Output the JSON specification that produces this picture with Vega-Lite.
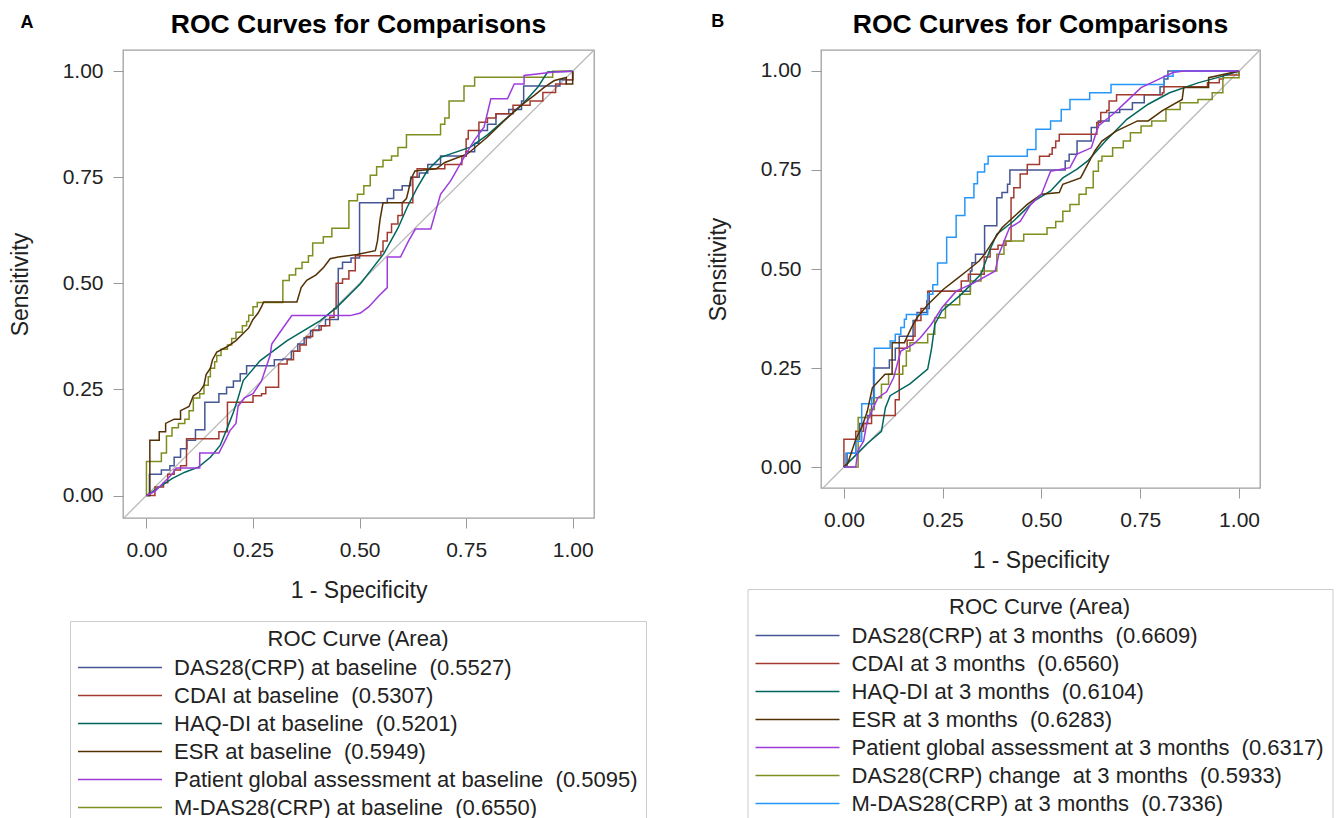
{
"$schema": "https://vega.github.io/schema/vega-lite/v6.json",
"padding": {"left": 8, "top": 11, "right": 0, "bottom": 0},
"spacing": 58,
"config": {
  "font": "Liberation Sans",
  "view": {"stroke": "#a0a0a0", "strokeWidth": 1.3},
  "axis": {"domain": false, "gridColor": "#e3e3e3", "tickColor": "#999999", "tickSize": 10, "labelFont": "Liberation Sans", "labelFontSize": 21, "labelColor": "#222222", "titleFont": "Liberation Sans", "titleFontSize": 23, "titleFontWeight": "normal", "titleColor": "#222222"},
  "axisX": {"labelPadding": 11, "titlePadding": 19},
  "axisY": {"labelPadding": 10, "titlePadding": 30},
  "title": {"font": "Liberation Sans"}
},
"datasets": {
  "curvesA": [
    {"k": "a1", "name": "DAS28(CRP) at baseline \u00a0(0.5527)"},
    {"k": "a2", "name": "CDAI at baseline \u00a0(0.5307)"},
    {"k": "a3", "name": "HAQ-DI at baseline \u00a0(0.5201)"},
    {"k": "a4", "name": "ESR at baseline \u00a0(0.5949)"},
    {"k": "a5", "name": "Patient global assessment at baseline \u00a0(0.5095)"},
    {"k": "a6", "name": "M-DAS28(CRP) at baseline \u00a0(0.6550)"}
  ],
  "curvesB": [
    {"k": "b1", "name": "DAS28(CRP) at 3 months \u00a0(0.6609)"},
    {"k": "b2", "name": "CDAI at 3 months \u00a0(0.6560)"},
    {"k": "b3", "name": "HAQ-DI at 3 months \u00a0(0.6104)"},
    {"k": "b4", "name": "ESR at 3 months \u00a0(0.6283)"},
    {"k": "b5", "name": "Patient global assessment at 3 months \u00a0(0.6317)"},
    {"k": "b6", "name": "DAS28(CRP) change \u00a0at 3 months \u00a0(0.5933)"},
    {"k": "b7", "name": "M-DAS28(CRP) at 3 months \u00a0(0.7336)"}
  ],
  "A_step": [
    {"k":"a1","i":0,"x":0,"y":0},{"k":"a1","i":1,"x":0.007,"y":0},{"k":"a1","i":2,"x":0.007,"y":0.05},{"k":"a1","i":3,"x":0.035,"y":0.05},{"k":"a1","i":4,"x":0.035,"y":0.06},{"k":"a1","i":5,"x":0.055,"y":0.07},{"k":"a1","i":6,"x":0.065,"y":0.09},{"k":"a1","i":7,"x":0.08,"y":0.11},{"k":"a1","i":8,"x":0.095,"y":0.13},{"k":"a1","i":9,"x":0.115,"y":0.155},{"k":"a1","i":10,"x":0.137,"y":0.155},{"k":"a1","i":11,"x":0.137,"y":0.22},{"k":"a1","i":12,"x":0.16,"y":0.22},{"k":"a1","i":13,"x":0.17,"y":0.24},{"k":"a1","i":14,"x":0.188,"y":0.255},{"k":"a1","i":15,"x":0.204,"y":0.27},{"k":"a1","i":16,"x":0.22,"y":0.287},{"k":"a1","i":17,"x":0.235,"y":0.306},{"k":"a1","i":18,"x":0.3,"y":0.306},{"k":"a1","i":19,"x":0.3,"y":0.32},{"k":"a1","i":20,"x":0.32,"y":0.322},{"k":"a1","i":21,"x":0.34,"y":0.34},{"k":"a1","i":22,"x":0.355,"y":0.357},{"k":"a1","i":23,"x":0.37,"y":0.372},{"k":"a1","i":24,"x":0.385,"y":0.389},{"k":"a1","i":25,"x":0.405,"y":0.4},{"k":"a1","i":26,"x":0.42,"y":0.415},{"k":"a1","i":27,"x":0.45,"y":0.415},{"k":"a1","i":28,"x":0.45,"y":0.535},{"k":"a1","i":29,"x":0.46,"y":0.535},{"k":"a1","i":30,"x":0.46,"y":0.55},{"k":"a1","i":31,"x":0.48,"y":0.55},{"k":"a1","i":32,"x":0.48,"y":0.56},{"k":"a1","i":33,"x":0.5,"y":0.56},{"k":"a1","i":34,"x":0.5,"y":0.69},{"k":"a1","i":35,"x":0.555,"y":0.69},{"k":"a1","i":36,"x":0.565,"y":0.7},{"k":"a1","i":37,"x":0.58,"y":0.72},{"k":"a1","i":38,"x":0.6,"y":0.73},{"k":"a1","i":39,"x":0.62,"y":0.75},{"k":"a1","i":40,"x":0.64,"y":0.76},{"k":"a1","i":41,"x":0.66,"y":0.78},{"k":"a1","i":42,"x":0.69,"y":0.8},{"k":"a1","i":43,"x":0.75,"y":0.81},{"k":"a1","i":44,"x":0.77,"y":0.83},{"k":"a1","i":45,"x":0.78,"y":0.86},{"k":"a1","i":46,"x":0.8,"y":0.875},{"k":"a1","i":47,"x":0.82,"y":0.9},{"k":"a1","i":48,"x":0.85,"y":0.91},{"k":"a1","i":49,"x":0.88,"y":0.93},{"k":"a1","i":50,"x":0.885,"y":0.965},{"k":"a1","i":51,"x":0.97,"y":0.965},{"k":"a1","i":52,"x":0.97,"y":0.98},{"k":"a1","i":53,"x":1,"y":0.98},{"k":"a1","i":54,"x":1,"y":1},
    {"k":"a2","i":0,"x":0,"y":0},{"k":"a2","i":1,"x":0.02,"y":0},{"k":"a2","i":2,"x":0.02,"y":0.02},{"k":"a2","i":3,"x":0.04,"y":0.03},{"k":"a2","i":4,"x":0.05,"y":0.05},{"k":"a2","i":5,"x":0.065,"y":0.06},{"k":"a2","i":6,"x":0.08,"y":0.07},{"k":"a2","i":7,"x":0.094,"y":0.08},{"k":"a2","i":8,"x":0.094,"y":0.134},{"k":"a2","i":9,"x":0.17,"y":0.134},{"k":"a2","i":10,"x":0.17,"y":0.15},{"k":"a2","i":11,"x":0.19,"y":0.15},{"k":"a2","i":12,"x":0.19,"y":0.22},{"k":"a2","i":13,"x":0.245,"y":0.22},{"k":"a2","i":14,"x":0.25,"y":0.235},{"k":"a2","i":15,"x":0.27,"y":0.24},{"k":"a2","i":16,"x":0.28,"y":0.255},{"k":"a2","i":17,"x":0.31,"y":0.255},{"k":"a2","i":18,"x":0.31,"y":0.31},{"k":"a2","i":19,"x":0.33,"y":0.32},{"k":"a2","i":20,"x":0.345,"y":0.34},{"k":"a2","i":21,"x":0.36,"y":0.355},{"k":"a2","i":22,"x":0.375,"y":0.375},{"k":"a2","i":23,"x":0.39,"y":0.39},{"k":"a2","i":24,"x":0.41,"y":0.4},{"k":"a2","i":25,"x":0.43,"y":0.42},{"k":"a2","i":26,"x":0.44,"y":0.44},{"k":"a2","i":27,"x":0.445,"y":0.5},{"k":"a2","i":28,"x":0.46,"y":0.51},{"k":"a2","i":29,"x":0.475,"y":0.53},{"k":"a2","i":30,"x":0.49,"y":0.55},{"k":"a2","i":31,"x":0.49,"y":0.565},{"k":"a2","i":32,"x":0.55,"y":0.575},{"k":"a2","i":33,"x":0.555,"y":0.6},{"k":"a2","i":34,"x":0.565,"y":0.62},{"k":"a2","i":35,"x":0.575,"y":0.64},{"k":"a2","i":36,"x":0.59,"y":0.66},{"k":"a2","i":37,"x":0.6,"y":0.69},{"k":"a2","i":38,"x":0.62,"y":0.69},{"k":"a2","i":39,"x":0.625,"y":0.75},{"k":"a2","i":40,"x":0.635,"y":0.77},{"k":"a2","i":41,"x":0.69,"y":0.77},{"k":"a2","i":42,"x":0.7,"y":0.78},{"k":"a2","i":43,"x":0.74,"y":0.8},{"k":"a2","i":44,"x":0.75,"y":0.84},{"k":"a2","i":45,"x":0.755,"y":0.86},{"k":"a2","i":46,"x":0.78,"y":0.86},{"k":"a2","i":47,"x":0.78,"y":0.88},{"k":"a2","i":48,"x":0.8,"y":0.89},{"k":"a2","i":49,"x":0.82,"y":0.9},{"k":"a2","i":50,"x":0.86,"y":0.92},{"k":"a2","i":51,"x":0.9,"y":0.93},{"k":"a2","i":52,"x":0.93,"y":0.95},{"k":"a2","i":53,"x":0.96,"y":0.97},{"k":"a2","i":54,"x":0.985,"y":0.98},{"k":"a2","i":55,"x":1,"y":0.98},{"k":"a2","i":56,"x":1,"y":1},
    {"k":"a6","i":0,"x":0,"y":0},{"k":"a6","i":1,"x":0,"y":0.08},{"k":"a6","i":2,"x":0.035,"y":0.08},{"k":"a6","i":3,"x":0.035,"y":0.1},{"k":"a6","i":4,"x":0.047,"y":0.1},{"k":"a6","i":5,"x":0.047,"y":0.14},{"k":"a6","i":6,"x":0.06,"y":0.14},{"k":"a6","i":7,"x":0.06,"y":0.16},{"k":"a6","i":8,"x":0.075,"y":0.17},{"k":"a6","i":9,"x":0.09,"y":0.18},{"k":"a6","i":10,"x":0.1,"y":0.2},{"k":"a6","i":11,"x":0.11,"y":0.21},{"k":"a6","i":12,"x":0.11,"y":0.23},{"k":"a6","i":13,"x":0.125,"y":0.24},{"k":"a6","i":14,"x":0.135,"y":0.26},{"k":"a6","i":15,"x":0.145,"y":0.28},{"k":"a6","i":16,"x":0.15,"y":0.3},{"k":"a6","i":17,"x":0.16,"y":0.315},{"k":"a6","i":18,"x":0.165,"y":0.33},{"k":"a6","i":19,"x":0.175,"y":0.345},{"k":"a6","i":20,"x":0.19,"y":0.355},{"k":"a6","i":21,"x":0.2,"y":0.37},{"k":"a6","i":22,"x":0.21,"y":0.385},{"k":"a6","i":23,"x":0.225,"y":0.4},{"k":"a6","i":24,"x":0.235,"y":0.41},{"k":"a6","i":25,"x":0.24,"y":0.425},{"k":"a6","i":26,"x":0.25,"y":0.43},{"k":"a6","i":27,"x":0.25,"y":0.445},{"k":"a6","i":28,"x":0.26,"y":0.455},{"k":"a6","i":29,"x":0.32,"y":0.455},{"k":"a6","i":30,"x":0.32,"y":0.507},{"k":"a6","i":31,"x":0.335,"y":0.507},{"k":"a6","i":32,"x":0.335,"y":0.52},{"k":"a6","i":33,"x":0.35,"y":0.52},{"k":"a6","i":34,"x":0.35,"y":0.535},{"k":"a6","i":35,"x":0.365,"y":0.535},{"k":"a6","i":36,"x":0.365,"y":0.55},{"k":"a6","i":37,"x":0.38,"y":0.55},{"k":"a6","i":38,"x":0.38,"y":0.565},{"k":"a6","i":39,"x":0.39,"y":0.565},{"k":"a6","i":40,"x":0.39,"y":0.595},{"k":"a6","i":41,"x":0.415,"y":0.595},{"k":"a6","i":42,"x":0.415,"y":0.61},{"k":"a6","i":43,"x":0.435,"y":0.61},{"k":"a6","i":44,"x":0.435,"y":0.63},{"k":"a6","i":45,"x":0.475,"y":0.63},{"k":"a6","i":46,"x":0.475,"y":0.695},{"k":"a6","i":47,"x":0.495,"y":0.695},{"k":"a6","i":48,"x":0.495,"y":0.71},{"k":"a6","i":49,"x":0.51,"y":0.71},{"k":"a6","i":50,"x":0.51,"y":0.73},{"k":"a6","i":51,"x":0.525,"y":0.73},{"k":"a6","i":52,"x":0.525,"y":0.755},{"k":"a6","i":53,"x":0.54,"y":0.755},{"k":"a6","i":54,"x":0.54,"y":0.775},{"k":"a6","i":55,"x":0.555,"y":0.775},{"k":"a6","i":56,"x":0.555,"y":0.79},{"k":"a6","i":57,"x":0.575,"y":0.79},{"k":"a6","i":58,"x":0.575,"y":0.8},{"k":"a6","i":59,"x":0.59,"y":0.8},{"k":"a6","i":60,"x":0.59,"y":0.82},{"k":"a6","i":61,"x":0.61,"y":0.82},{"k":"a6","i":62,"x":0.61,"y":0.85},{"k":"a6","i":63,"x":0.69,"y":0.85},{"k":"a6","i":64,"x":0.69,"y":0.875},{"k":"a6","i":65,"x":0.7,"y":0.875},{"k":"a6","i":66,"x":0.7,"y":0.89},{"k":"a6","i":67,"x":0.71,"y":0.89},{"k":"a6","i":68,"x":0.71,"y":0.93},{"k":"a6","i":69,"x":0.745,"y":0.93},{"k":"a6","i":70,"x":0.745,"y":0.965},{"k":"a6","i":71,"x":0.77,"y":0.965},{"k":"a6","i":72,"x":0.77,"y":0.986},{"k":"a6","i":73,"x":0.953,"y":0.986},{"k":"a6","i":74,"x":0.953,"y":1},{"k":"a6","i":75,"x":1,"y":1}
  ],
  "A_lin": [
    {"k":"a3","i":0,"x":0,"y":0},{"k":"a3","i":1,"x":0.03,"y":0.02},{"k":"a3","i":2,"x":0.06,"y":0.04},{"k":"a3","i":3,"x":0.09,"y":0.055},{"k":"a3","i":4,"x":0.122,"y":0.067},{"k":"a3","i":5,"x":0.15,"y":0.09},{"k":"a3","i":6,"x":0.173,"y":0.118},{"k":"a3","i":7,"x":0.19,"y":0.16},{"k":"a3","i":8,"x":0.204,"y":0.196},{"k":"a3","i":9,"x":0.215,"y":0.23},{"k":"a3","i":10,"x":0.227,"y":0.271},{"k":"a3","i":11,"x":0.267,"y":0.318},{"k":"a3","i":12,"x":0.33,"y":0.365},{"k":"a3","i":13,"x":0.408,"y":0.412},{"k":"a3","i":14,"x":0.447,"y":0.444},{"k":"a3","i":15,"x":0.502,"y":0.499},{"k":"a3","i":16,"x":0.557,"y":0.57},{"k":"a3","i":17,"x":0.59,"y":0.63},{"k":"a3","i":18,"x":0.612,"y":0.68},{"k":"a3","i":19,"x":0.635,"y":0.725},{"k":"a3","i":20,"x":0.659,"y":0.766},{"k":"a3","i":21,"x":0.69,"y":0.797},{"k":"a3","i":22,"x":0.76,"y":0.821},{"k":"a3","i":23,"x":0.8,"y":0.85},{"k":"a3","i":24,"x":0.839,"y":0.884},{"k":"a3","i":25,"x":0.88,"y":0.92},{"k":"a3","i":26,"x":0.918,"y":0.962},{"k":"a3","i":27,"x":0.941,"y":0.998},{"k":"a3","i":28,"x":1,"y":1},
    {"k":"a4","i":0,"x":0,"y":0},{"k":"a4","i":1,"x":0.008,"y":0},{"k":"a4","i":2,"x":0.008,"y":0.13},{"k":"a4","i":3,"x":0.03,"y":0.13},{"k":"a4","i":4,"x":0.03,"y":0.15},{"k":"a4","i":5,"x":0.045,"y":0.15},{"k":"a4","i":6,"x":0.045,"y":0.17},{"k":"a4","i":7,"x":0.065,"y":0.18},{"k":"a4","i":8,"x":0.08,"y":0.18},{"k":"a4","i":9,"x":0.08,"y":0.2},{"k":"a4","i":10,"x":0.1,"y":0.21},{"k":"a4","i":11,"x":0.11,"y":0.235},{"k":"a4","i":12,"x":0.125,"y":0.245},{"k":"a4","i":13,"x":0.135,"y":0.26},{"k":"a4","i":14,"x":0.14,"y":0.285},{"k":"a4","i":15,"x":0.15,"y":0.3},{"k":"a4","i":16,"x":0.155,"y":0.32},{"k":"a4","i":17,"x":0.165,"y":0.338},{"k":"a4","i":18,"x":0.188,"y":0.35},{"k":"a4","i":19,"x":0.21,"y":0.365},{"k":"a4","i":20,"x":0.225,"y":0.38},{"k":"a4","i":21,"x":0.24,"y":0.395},{"k":"a4","i":22,"x":0.25,"y":0.415},{"k":"a4","i":23,"x":0.262,"y":0.43},{"k":"a4","i":24,"x":0.27,"y":0.445},{"k":"a4","i":25,"x":0.275,"y":0.456},{"k":"a4","i":26,"x":0.353,"y":0.456},{"k":"a4","i":27,"x":0.363,"y":0.49},{"k":"a4","i":28,"x":0.376,"y":0.507},{"k":"a4","i":29,"x":0.398,"y":0.52},{"k":"a4","i":30,"x":0.416,"y":0.538},{"k":"a4","i":31,"x":0.431,"y":0.558},{"k":"a4","i":32,"x":0.45,"y":0.562},{"k":"a4","i":33,"x":0.494,"y":0.568},{"k":"a4","i":34,"x":0.537,"y":0.577},{"k":"a4","i":35,"x":0.542,"y":0.6},{"k":"a4","i":36,"x":0.548,"y":0.65},{"k":"a4","i":37,"x":0.555,"y":0.69},{"k":"a4","i":38,"x":0.6,"y":0.69},{"k":"a4","i":39,"x":0.61,"y":0.7},{"k":"a4","i":40,"x":0.615,"y":0.72},{"k":"a4","i":41,"x":0.62,"y":0.745},{"k":"a4","i":42,"x":0.63,"y":0.765},{"k":"a4","i":43,"x":0.68,"y":0.77},{"k":"a4","i":44,"x":0.7,"y":0.785},{"k":"a4","i":45,"x":0.753,"y":0.805},{"k":"a4","i":46,"x":0.8,"y":0.845},{"k":"a4","i":47,"x":0.84,"y":0.884},{"k":"a4","i":48,"x":0.878,"y":0.919},{"k":"a4","i":49,"x":0.91,"y":0.943},{"k":"a4","i":50,"x":0.933,"y":0.962},{"k":"a4","i":51,"x":0.957,"y":0.978},{"k":"a4","i":52,"x":0.985,"y":0.985},{"k":"a4","i":53,"x":0.985,"y":0.97},{"k":"a4","i":54,"x":1,"y":0.97},{"k":"a4","i":55,"x":1,"y":1},
    {"k":"a5","i":0,"x":0,"y":0},{"k":"a5","i":1,"x":0.02,"y":0.01},{"k":"a5","i":2,"x":0.04,"y":0.03},{"k":"a5","i":3,"x":0.06,"y":0.05},{"k":"a5","i":4,"x":0.07,"y":0.065},{"k":"a5","i":5,"x":0.125,"y":0.065},{"k":"a5","i":6,"x":0.125,"y":0.1},{"k":"a5","i":7,"x":0.17,"y":0.1},{"k":"a5","i":8,"x":0.185,"y":0.13},{"k":"a5","i":9,"x":0.196,"y":0.153},{"k":"a5","i":10,"x":0.21,"y":0.17},{"k":"a5","i":11,"x":0.215,"y":0.21},{"k":"a5","i":12,"x":0.23,"y":0.23},{"k":"a5","i":13,"x":0.25,"y":0.24},{"k":"a5","i":14,"x":0.27,"y":0.27},{"k":"a5","i":15,"x":0.28,"y":0.3},{"k":"a5","i":16,"x":0.29,"y":0.33},{"k":"a5","i":17,"x":0.294,"y":0.357},{"k":"a5","i":18,"x":0.31,"y":0.38},{"k":"a5","i":19,"x":0.341,"y":0.424},{"k":"a5","i":20,"x":0.478,"y":0.424},{"k":"a5","i":21,"x":0.502,"y":0.43},{"k":"a5","i":22,"x":0.522,"y":0.445},{"k":"a5","i":23,"x":0.545,"y":0.47},{"k":"a5","i":24,"x":0.565,"y":0.49},{"k":"a5","i":25,"x":0.565,"y":0.562},{"k":"a5","i":26,"x":0.596,"y":0.562},{"k":"a5","i":27,"x":0.615,"y":0.6},{"k":"a5","i":28,"x":0.631,"y":0.628},{"k":"a5","i":29,"x":0.667,"y":0.628},{"k":"a5","i":30,"x":0.69,"y":0.71},{"k":"a5","i":31,"x":0.714,"y":0.742},{"k":"a5","i":32,"x":0.745,"y":0.797},{"k":"a5","i":33,"x":0.769,"y":0.837},{"k":"a5","i":34,"x":0.792,"y":0.868},{"k":"a5","i":35,"x":0.808,"y":0.935},{"k":"a5","i":36,"x":0.847,"y":0.935},{"k":"a5","i":37,"x":0.863,"y":0.97},{"k":"a5","i":38,"x":0.886,"y":0.97},{"k":"a5","i":39,"x":0.886,"y":0.99},{"k":"a5","i":40,"x":0.957,"y":0.998},{"k":"a5","i":41,"x":1,"y":1}
  ],
  "B_step": [
    {"k":"b1","i":0,"x":0,"y":0},{"k":"b1","i":1,"x":0.008,"y":0},{"k":"b1","i":2,"x":0.008,"y":0.035},{"k":"b1","i":3,"x":0.03,"y":0.035},{"k":"b1","i":4,"x":0.03,"y":0.07},{"k":"b1","i":5,"x":0.04,"y":0.07},{"k":"b1","i":6,"x":0.04,"y":0.11},{"k":"b1","i":7,"x":0.06,"y":0.13},{"k":"b1","i":8,"x":0.07,"y":0.16},{"k":"b1","i":9,"x":0.075,"y":0.2},{"k":"b1","i":10,"x":0.075,"y":0.25},{"k":"b1","i":11,"x":0.1,"y":0.25},{"k":"b1","i":12,"x":0.115,"y":0.27},{"k":"b1","i":13,"x":0.13,"y":0.3},{"k":"b1","i":14,"x":0.14,"y":0.33},{"k":"b1","i":15,"x":0.165,"y":0.33},{"k":"b1","i":16,"x":0.175,"y":0.37},{"k":"b1","i":17,"x":0.185,"y":0.39},{"k":"b1","i":18,"x":0.21,"y":0.4},{"k":"b1","i":19,"x":0.216,"y":0.444},{"k":"b1","i":20,"x":0.315,"y":0.444},{"k":"b1","i":21,"x":0.32,"y":0.495},{"k":"b1","i":22,"x":0.324,"y":0.516},{"k":"b1","i":23,"x":0.333,"y":0.537},{"k":"b1","i":24,"x":0.356,"y":0.537},{"k":"b1","i":25,"x":0.356,"y":0.609},{"k":"b1","i":26,"x":0.387,"y":0.609},{"k":"b1","i":27,"x":0.387,"y":0.68},{"k":"b1","i":28,"x":0.4,"y":0.693},{"k":"b1","i":29,"x":0.414,"y":0.714},{"k":"b1","i":30,"x":0.42,"y":0.75},{"k":"b1","i":31,"x":0.56,"y":0.75},{"k":"b1","i":32,"x":0.56,"y":0.773},{"k":"b1","i":33,"x":0.57,"y":0.79},{"k":"b1","i":34,"x":0.59,"y":0.823},{"k":"b1","i":35,"x":0.622,"y":0.823},{"k":"b1","i":36,"x":0.626,"y":0.857},{"k":"b1","i":37,"x":0.644,"y":0.874},{"k":"b1","i":38,"x":0.671,"y":0.874},{"k":"b1","i":39,"x":0.671,"y":0.895},{"k":"b1","i":40,"x":0.698,"y":0.903},{"k":"b1","i":41,"x":0.73,"y":0.92},{"k":"b1","i":42,"x":0.76,"y":0.94},{"k":"b1","i":43,"x":0.8,"y":0.96},{"k":"b1","i":44,"x":0.81,"y":0.98},{"k":"b1","i":45,"x":0.82,"y":1},{"k":"b1","i":46,"x":1,"y":1},
    {"k":"b2","i":0,"x":0,"y":0},{"k":"b2","i":1,"x":0,"y":0.07},{"k":"b2","i":2,"x":0.03,"y":0.07},{"k":"b2","i":3,"x":0.03,"y":0.09},{"k":"b2","i":4,"x":0.05,"y":0.11},{"k":"b2","i":5,"x":0.07,"y":0.13},{"k":"b2","i":6,"x":0.13,"y":0.13},{"k":"b2","i":7,"x":0.13,"y":0.17},{"k":"b2","i":8,"x":0.14,"y":0.2},{"k":"b2","i":9,"x":0.14,"y":0.3},{"k":"b2","i":10,"x":0.16,"y":0.32},{"k":"b2","i":11,"x":0.175,"y":0.33},{"k":"b2","i":12,"x":0.18,"y":0.37},{"k":"b2","i":13,"x":0.195,"y":0.4},{"k":"b2","i":14,"x":0.21,"y":0.42},{"k":"b2","i":15,"x":0.212,"y":0.444},{"k":"b2","i":16,"x":0.284,"y":0.444},{"k":"b2","i":17,"x":0.297,"y":0.47},{"k":"b2","i":18,"x":0.315,"y":0.487},{"k":"b2","i":19,"x":0.355,"y":0.49},{"k":"b2","i":20,"x":0.355,"y":0.53},{"k":"b2","i":21,"x":0.37,"y":0.55},{"k":"b2","i":22,"x":0.39,"y":0.56},{"k":"b2","i":23,"x":0.41,"y":0.57},{"k":"b2","i":24,"x":0.423,"y":0.58},{"k":"b2","i":25,"x":0.423,"y":0.68},{"k":"b2","i":26,"x":0.43,"y":0.705},{"k":"b2","i":27,"x":0.446,"y":0.74},{"k":"b2","i":28,"x":0.464,"y":0.764},{"k":"b2","i":29,"x":0.495,"y":0.785},{"k":"b2","i":30,"x":0.52,"y":0.79},{"k":"b2","i":31,"x":0.527,"y":0.806},{"k":"b2","i":32,"x":0.536,"y":0.823},{"k":"b2","i":33,"x":0.545,"y":0.84},{"k":"b2","i":34,"x":0.635,"y":0.84},{"k":"b2","i":35,"x":0.64,"y":0.87},{"k":"b2","i":36,"x":0.65,"y":0.895},{"k":"b2","i":37,"x":0.665,"y":0.9},{"k":"b2","i":38,"x":0.671,"y":0.924},{"k":"b2","i":39,"x":0.69,"y":0.94},{"k":"b2","i":40,"x":0.806,"y":0.945},{"k":"b2","i":41,"x":0.81,"y":0.96},{"k":"b2","i":42,"x":0.85,"y":0.96},{"k":"b2","i":43,"x":0.92,"y":0.97},{"k":"b2","i":44,"x":0.95,"y":0.98},{"k":"b2","i":45,"x":0.96,"y":0.99},{"k":"b2","i":46,"x":1,"y":1},
    {"k":"b6","i":0,"x":0,"y":0},{"k":"b6","i":1,"x":0.036,"y":0},{"k":"b6","i":2,"x":0.036,"y":0.125},{"k":"b6","i":3,"x":0.066,"y":0.125},{"k":"b6","i":4,"x":0.066,"y":0.145},{"k":"b6","i":5,"x":0.077,"y":0.175},{"k":"b6","i":6,"x":0.095,"y":0.209},{"k":"b6","i":7,"x":0.113,"y":0.234},{"k":"b6","i":8,"x":0.149,"y":0.255},{"k":"b6","i":9,"x":0.158,"y":0.293},{"k":"b6","i":10,"x":0.167,"y":0.314},{"k":"b6","i":11,"x":0.19,"y":0.314},{"k":"b6","i":12,"x":0.212,"y":0.335},{"k":"b6","i":13,"x":0.23,"y":0.377},{"k":"b6","i":14,"x":0.257,"y":0.41},{"k":"b6","i":15,"x":0.293,"y":0.436},{"k":"b6","i":16,"x":0.32,"y":0.47},{"k":"b6","i":17,"x":0.347,"y":0.495},{"k":"b6","i":18,"x":0.387,"y":0.537},{"k":"b6","i":19,"x":0.405,"y":0.571},{"k":"b6","i":20,"x":0.455,"y":0.571},{"k":"b6","i":21,"x":0.455,"y":0.588},{"k":"b6","i":22,"x":0.514,"y":0.588},{"k":"b6","i":23,"x":0.514,"y":0.604},{"k":"b6","i":24,"x":0.536,"y":0.62},{"k":"b6","i":25,"x":0.554,"y":0.646},{"k":"b6","i":26,"x":0.572,"y":0.663},{"k":"b6","i":27,"x":0.595,"y":0.689},{"k":"b6","i":28,"x":0.613,"y":0.705},{"k":"b6","i":29,"x":0.631,"y":0.747},{"k":"b6","i":30,"x":0.644,"y":0.773},{"k":"b6","i":31,"x":0.653,"y":0.785},{"k":"b6","i":32,"x":0.68,"y":0.785},{"k":"b6","i":33,"x":0.68,"y":0.806},{"k":"b6","i":34,"x":0.707,"y":0.823},{"k":"b6","i":35,"x":0.725,"y":0.844},{"k":"b6","i":36,"x":0.752,"y":0.861},{"k":"b6","i":37,"x":0.779,"y":0.874},{"k":"b6","i":38,"x":0.815,"y":0.903},{"k":"b6","i":39,"x":0.851,"y":0.92},{"k":"b6","i":40,"x":0.896,"y":0.928},{"k":"b6","i":41,"x":0.932,"y":0.945},{"k":"b6","i":42,"x":0.959,"y":0.945},{"k":"b6","i":43,"x":0.959,"y":0.983},{"k":"b6","i":44,"x":1,"y":1},
    {"k":"b7","i":0,"x":0,"y":0},{"k":"b7","i":1,"x":0.005,"y":0},{"k":"b7","i":2,"x":0.005,"y":0.035},{"k":"b7","i":3,"x":0.03,"y":0.035},{"k":"b7","i":4,"x":0.03,"y":0.065},{"k":"b7","i":5,"x":0.045,"y":0.065},{"k":"b7","i":6,"x":0.045,"y":0.16},{"k":"b7","i":7,"x":0.07,"y":0.16},{"k":"b7","i":8,"x":0.07,"y":0.175},{"k":"b7","i":9,"x":0.077,"y":0.175},{"k":"b7","i":10,"x":0.077,"y":0.3},{"k":"b7","i":11,"x":0.117,"y":0.3},{"k":"b7","i":12,"x":0.117,"y":0.318},{"k":"b7","i":13,"x":0.13,"y":0.318},{"k":"b7","i":14,"x":0.13,"y":0.335},{"k":"b7","i":15,"x":0.144,"y":0.335},{"k":"b7","i":16,"x":0.144,"y":0.352},{"k":"b7","i":17,"x":0.153,"y":0.352},{"k":"b7","i":18,"x":0.153,"y":0.373},{"k":"b7","i":19,"x":0.158,"y":0.373},{"k":"b7","i":20,"x":0.158,"y":0.385},{"k":"b7","i":21,"x":0.212,"y":0.385},{"k":"b7","i":22,"x":0.212,"y":0.436},{"k":"b7","i":23,"x":0.225,"y":0.436},{"k":"b7","i":24,"x":0.225,"y":0.46},{"k":"b7","i":25,"x":0.237,"y":0.46},{"k":"b7","i":26,"x":0.237,"y":0.515},{"k":"b7","i":27,"x":0.26,"y":0.515},{"k":"b7","i":28,"x":0.26,"y":0.58},{"k":"b7","i":29,"x":0.284,"y":0.58},{"k":"b7","i":30,"x":0.284,"y":0.635},{"k":"b7","i":31,"x":0.306,"y":0.635},{"k":"b7","i":32,"x":0.306,"y":0.68},{"k":"b7","i":33,"x":0.329,"y":0.68},{"k":"b7","i":34,"x":0.329,"y":0.715},{"k":"b7","i":35,"x":0.338,"y":0.715},{"k":"b7","i":36,"x":0.338,"y":0.745},{"k":"b7","i":37,"x":0.356,"y":0.745},{"k":"b7","i":38,"x":0.356,"y":0.765},{"k":"b7","i":39,"x":0.365,"y":0.765},{"k":"b7","i":40,"x":0.365,"y":0.785},{"k":"b7","i":41,"x":0.464,"y":0.785},{"k":"b7","i":42,"x":0.464,"y":0.802},{"k":"b7","i":43,"x":0.486,"y":0.802},{"k":"b7","i":44,"x":0.486,"y":0.853},{"k":"b7","i":45,"x":0.523,"y":0.853},{"k":"b7","i":46,"x":0.523,"y":0.874},{"k":"b7","i":47,"x":0.55,"y":0.874},{"k":"b7","i":48,"x":0.55,"y":0.903},{"k":"b7","i":49,"x":0.572,"y":0.903},{"k":"b7","i":50,"x":0.572,"y":0.928},{"k":"b7","i":51,"x":0.622,"y":0.928},{"k":"b7","i":52,"x":0.622,"y":0.945},{"k":"b7","i":53,"x":0.676,"y":0.945},{"k":"b7","i":54,"x":0.676,"y":0.966},{"k":"b7","i":55,"x":0.81,"y":0.966},{"k":"b7","i":56,"x":0.81,"y":0.987},{"k":"b7","i":57,"x":0.833,"y":0.987},{"k":"b7","i":58,"x":0.833,"y":1},{"k":"b7","i":59,"x":1,"y":1}
  ],
  "B_lin": [
    {"k":"b3","i":0,"x":0,"y":0},{"k":"b3","i":1,"x":0.03,"y":0.03},{"k":"b3","i":2,"x":0.06,"y":0.06},{"k":"b3","i":3,"x":0.095,"y":0.09},{"k":"b3","i":4,"x":0.105,"y":0.15},{"k":"b3","i":5,"x":0.117,"y":0.18},{"k":"b3","i":6,"x":0.167,"y":0.21},{"k":"b3","i":7,"x":0.212,"y":0.247},{"k":"b3","i":8,"x":0.222,"y":0.3},{"k":"b3","i":9,"x":0.23,"y":0.36},{"k":"b3","i":10,"x":0.248,"y":0.394},{"k":"b3","i":11,"x":0.297,"y":0.436},{"k":"b3","i":12,"x":0.347,"y":0.487},{"k":"b3","i":13,"x":0.37,"y":0.55},{"k":"b3","i":14,"x":0.387,"y":0.588},{"k":"b3","i":15,"x":0.428,"y":0.62},{"k":"b3","i":16,"x":0.482,"y":0.672},{"k":"b3","i":17,"x":0.523,"y":0.697},{"k":"b3","i":18,"x":0.554,"y":0.73},{"k":"b3","i":19,"x":0.59,"y":0.752},{"k":"b3","i":20,"x":0.617,"y":0.773},{"k":"b3","i":21,"x":0.662,"y":0.823},{"k":"b3","i":22,"x":0.716,"y":0.878},{"k":"b3","i":23,"x":0.77,"y":0.916},{"k":"b3","i":24,"x":0.824,"y":0.945},{"k":"b3","i":25,"x":0.896,"y":0.97},{"k":"b3","i":26,"x":0.959,"y":0.987},{"k":"b3","i":27,"x":1,"y":1},
    {"k":"b4","i":0,"x":0,"y":0},{"k":"b4","i":1,"x":0.01,"y":0.01},{"k":"b4","i":2,"x":0.02,"y":0.04},{"k":"b4","i":3,"x":0.03,"y":0.07},{"k":"b4","i":4,"x":0.045,"y":0.1},{"k":"b4","i":5,"x":0.059,"y":0.14},{"k":"b4","i":6,"x":0.072,"y":0.2},{"k":"b4","i":7,"x":0.104,"y":0.234},{"k":"b4","i":8,"x":0.122,"y":0.234},{"k":"b4","i":9,"x":0.122,"y":0.314},{"k":"b4","i":10,"x":0.153,"y":0.314},{"k":"b4","i":11,"x":0.17,"y":0.35},{"k":"b4","i":12,"x":0.185,"y":0.377},{"k":"b4","i":13,"x":0.212,"y":0.41},{"k":"b4","i":14,"x":0.252,"y":0.449},{"k":"b4","i":15,"x":0.284,"y":0.474},{"k":"b4","i":16,"x":0.311,"y":0.495},{"k":"b4","i":17,"x":0.342,"y":0.52},{"k":"b4","i":18,"x":0.356,"y":0.537},{"k":"b4","i":19,"x":0.383,"y":0.579},{"k":"b4","i":20,"x":0.4,"y":0.604},{"k":"b4","i":21,"x":0.428,"y":0.63},{"k":"b4","i":22,"x":0.464,"y":0.663},{"k":"b4","i":23,"x":0.5,"y":0.689},{"k":"b4","i":24,"x":0.545,"y":0.693},{"k":"b4","i":25,"x":0.554,"y":0.714},{"k":"b4","i":26,"x":0.599,"y":0.73},{"k":"b4","i":27,"x":0.617,"y":0.764},{"k":"b4","i":28,"x":0.635,"y":0.798},{"k":"b4","i":29,"x":0.653,"y":0.823},{"k":"b4","i":30,"x":0.689,"y":0.848},{"k":"b4","i":31,"x":0.743,"y":0.874},{"k":"b4","i":32,"x":0.77,"y":0.874},{"k":"b4","i":33,"x":0.806,"y":0.9},{"k":"b4","i":34,"x":0.856,"y":0.928},{"k":"b4","i":35,"x":0.86,"y":0.958},{"k":"b4","i":36,"x":0.923,"y":0.958},{"k":"b4","i":37,"x":0.923,"y":0.983},{"k":"b4","i":38,"x":1,"y":1},
    {"k":"b5","i":0,"x":0,"y":0},{"k":"b5","i":1,"x":0.03,"y":0},{"k":"b5","i":2,"x":0.035,"y":0.04},{"k":"b5","i":3,"x":0.05,"y":0.066},{"k":"b5","i":4,"x":0.059,"y":0.116},{"k":"b5","i":5,"x":0.086,"y":0.175},{"k":"b5","i":6,"x":0.108,"y":0.19},{"k":"b5","i":7,"x":0.126,"y":0.226},{"k":"b5","i":8,"x":0.144,"y":0.293},{"k":"b5","i":9,"x":0.176,"y":0.31},{"k":"b5","i":10,"x":0.194,"y":0.327},{"k":"b5","i":11,"x":0.221,"y":0.36},{"k":"b5","i":12,"x":0.248,"y":0.402},{"k":"b5","i":13,"x":0.284,"y":0.444},{"k":"b5","i":14,"x":0.329,"y":0.465},{"k":"b5","i":15,"x":0.383,"y":0.495},{"k":"b5","i":16,"x":0.392,"y":0.537},{"k":"b5","i":17,"x":0.419,"y":0.604},{"k":"b5","i":18,"x":0.446,"y":0.62},{"k":"b5","i":19,"x":0.473,"y":0.663},{"k":"b5","i":20,"x":0.5,"y":0.689},{"k":"b5","i":21,"x":0.523,"y":0.747},{"k":"b5","i":22,"x":0.572,"y":0.756},{"k":"b5","i":23,"x":0.59,"y":0.79},{"k":"b5","i":24,"x":0.626,"y":0.806},{"k":"b5","i":25,"x":0.644,"y":0.861},{"k":"b5","i":26,"x":0.68,"y":0.89},{"k":"b5","i":27,"x":0.716,"y":0.924},{"k":"b5","i":28,"x":0.752,"y":0.958},{"k":"b5","i":29,"x":0.788,"y":0.975},{"k":"b5","i":30,"x":0.833,"y":0.996},{"k":"b5","i":31,"x":0.86,"y":1},{"k":"b5","i":32,"x":1,"y":1}
  ]
},
"resolve": {"scale": {"color": "independent"}, "legend": {"color": "independent"}},
"hconcat": [
  {
    "width": 471, "height": 468,
    "title": {"text": "ROC Curves for Comparisons", "fontSize": 26.5, "fontWeight": "bold", "baseline": "alphabetic", "offset": -46, "frame": "group", "anchor": "middle", "color": "#000000"},
    "layer": [
      {
        "data": {"values": [{}]},
        "mark": {"type": "rule", "color": "#b8b8b8", "strokeWidth": 1.3, "clip": true},
        "encoding": {
          "x": {"datum": -0.055, "type": "quantitative", "scale": {"domain": [-0.055, 1.05], "nice": false, "zero": false}, "axis": {"values": [0, 0.25, 0.5, 0.75, 1], "format": ".2f", "title": "1 - Specificity"}},
          "y": {"datum": -0.055, "type": "quantitative", "scale": {"domain": [-0.053, 1.05], "nice": false, "zero": false}, "axis": {"values": [0, 0.25, 0.5, 0.75, 1], "format": ".2f", "title": "Sensitivity"}},
          "x2": {"datum": 1.05},
          "y2": {"datum": 1.05}
        }
      },
      {
        "data": {"values": [{"panel": "A"}]},
        "mark": {"type": "text", "fontSize": 18, "fontWeight": "bold", "baseline": "alphabetic", "align": "center", "color": "#000000"},
        "encoding": {
          "x": {"datum": -0.28, "type": "quantitative"},
          "y": {"datum": 1.103, "type": "quantitative"},
          "text": {"field": "panel"}
        }
      },
      {
        "data": {"name": "A_step"},
        "transform": [{"lookup": "k", "from": {"data": {"name": "curvesA"}, "key": "k", "fields": ["name"]}}],
        "mark": {"type": "line", "interpolate": "step-after", "strokeWidth": 1.5},
        "encoding": {
          "x": {"field": "x", "type": "quantitative", "scale": {"domain": [-0.055, 1.05], "nice": false, "zero": false}, "axis": {"values": [0, 0.25, 0.5, 0.75, 1], "format": ".2f", "title": "1 - Specificity"}},
          "y": {"field": "y", "type": "quantitative", "scale": {"domain": [-0.053, 1.05], "nice": false, "zero": false}, "axis": {"values": [0, 0.25, 0.5, 0.75, 1], "format": ".2f", "title": "Sensitivity"}},
          "order": {"field": "i", "type": "quantitative"},
          "color": {"field": "name", "type": "nominal",
            "scale": {"domain": ["DAS28(CRP) at baseline \u00a0(0.5527)", "CDAI at baseline \u00a0(0.5307)", "HAQ-DI at baseline \u00a0(0.5201)", "ESR at baseline \u00a0(0.5949)", "Patient global assessment at baseline \u00a0(0.5095)", "M-DAS28(CRP) at baseline \u00a0(0.6550)"],
                      "range": ["#445694", "#A23A2E", "#01665E", "#543005", "#9D3CDB", "#7F8E1F"]},
            "legend": {"orient": "none", "legendX": -53, "legendY": 571, "title": "ROC Curve (Area)", "titleAnchor": "middle", "titleFontSize": 22, "titleFontWeight": "normal", "titleFont": "Liberation Sans", "titleColor": "#222222", "titlePadding": 5, "titleLimit": 1000, "labelFontSize": 22, "labelFont": "Liberation Sans", "labelColor": "#222222", "labelLimit": 1000, "labelOffset": 42.5, "symbolType": "M-4,0H4", "symbolSize": 441, "symbolOffset": 30.5, "symbolStrokeWidth": 1.5, "rowPadding": 5, "padding": 8, "strokeColor": "#cccccc", "fillColor": "#ffffff", "direction": "vertical", "columns": 1}
          }
        }
      },
      {
        "data": {"name": "A_lin"},
        "transform": [{"lookup": "k", "from": {"data": {"name": "curvesA"}, "key": "k", "fields": ["name"]}}],
        "mark": {"type": "line", "interpolate": "linear", "strokeWidth": 1.5},
        "encoding": {
          "x": {"field": "x", "type": "quantitative"},
          "y": {"field": "y", "type": "quantitative"},
          "order": {"field": "i", "type": "quantitative"},
          "color": {"field": "name", "type": "nominal"}
        }
      }
    ]
  },
  {
    "width": 439, "height": 438,
    "title": {"text": "ROC Curves for Comparisons", "fontSize": 26.5, "fontWeight": "bold", "baseline": "alphabetic", "offset": -46, "frame": "group", "anchor": "middle", "color": "#000000"},
    "layer": [
      {
        "data": {"values": [{}]},
        "mark": {"type": "rule", "color": "#b8b8b8", "strokeWidth": 1.3, "clip": true},
        "encoding": {
          "x": {"datum": -0.058, "type": "quantitative", "scale": {"domain": [-0.058, 1.053], "nice": false, "zero": false}, "axis": {"values": [0, 0.25, 0.5, 0.75, 1], "format": ".2f", "title": "1 - Specificity"}},
          "y": {"datum": -0.058, "type": "quantitative", "scale": {"domain": [-0.053, 1.053], "nice": false, "zero": false}, "axis": {"values": [0, 0.25, 0.5, 0.75, 1], "format": ".2f", "title": "Sensitivity"}},
          "x2": {"datum": 1.053},
          "y2": {"datum": 1.053}
        }
      },
      {
        "data": {"values": [{"panel": "B"}]},
        "mark": {"type": "text", "fontSize": 18, "fontWeight": "bold", "baseline": "alphabetic", "align": "center", "color": "#000000"},
        "encoding": {
          "x": {"datum": -0.319, "type": "quantitative"},
          "y": {"datum": 1.11, "type": "quantitative"},
          "text": {"field": "panel"}
        }
      },
      {
        "data": {"name": "B_step"},
        "transform": [{"lookup": "k", "from": {"data": {"name": "curvesB"}, "key": "k", "fields": ["name"]}}],
        "mark": {"type": "line", "interpolate": "step-after", "strokeWidth": 1.5},
        "encoding": {
          "x": {"field": "x", "type": "quantitative", "scale": {"domain": [-0.058, 1.053], "nice": false, "zero": false}, "axis": {"values": [0, 0.25, 0.5, 0.75, 1], "format": ".2f", "title": "1 - Specificity"}},
          "y": {"field": "y", "type": "quantitative", "scale": {"domain": [-0.053, 1.053], "nice": false, "zero": false}, "axis": {"values": [0, 0.25, 0.5, 0.75, 1], "format": ".2f", "title": "Sensitivity"}},
          "order": {"field": "i", "type": "quantitative"},
          "color": {"field": "name", "type": "nominal",
            "scale": {"domain": ["DAS28(CRP) at 3 months \u00a0(0.6609)", "CDAI at 3 months \u00a0(0.6560)", "HAQ-DI at 3 months \u00a0(0.6104)", "ESR at 3 months \u00a0(0.6283)", "Patient global assessment at 3 months \u00a0(0.6317)", "DAS28(CRP) change \u00a0at 3 months \u00a0(0.5933)", "M-DAS28(CRP) at 3 months \u00a0(0.7336)"],
                      "range": ["#445694", "#A23A2E", "#01665E", "#543005", "#9D3CDB", "#7F8E1F", "#2597FA"]},
            "legend": {"orient": "none", "legendX": -73.5, "legendY": 539, "title": "ROC Curve (Area)", "titleAnchor": "middle", "titleFontSize": 22, "titleFontWeight": "normal", "titleFont": "Liberation Sans", "titleColor": "#222222", "titlePadding": 5, "titleLimit": 1000, "labelFontSize": 22, "labelFont": "Liberation Sans", "labelColor": "#222222", "labelLimit": 1000, "labelOffset": 42.5, "symbolType": "M-4,0H4", "symbolSize": 441, "symbolOffset": 30.5, "symbolStrokeWidth": 1.5, "rowPadding": 5, "padding": 8, "strokeColor": "#cccccc", "fillColor": "#ffffff", "direction": "vertical", "columns": 1}
          }
        }
      },
      {
        "data": {"name": "B_lin"},
        "transform": [{"lookup": "k", "from": {"data": {"name": "curvesB"}, "key": "k", "fields": ["name"]}}],
        "mark": {"type": "line", "interpolate": "linear", "strokeWidth": 1.5},
        "encoding": {
          "x": {"field": "x", "type": "quantitative"},
          "y": {"field": "y", "type": "quantitative"},
          "order": {"field": "i", "type": "quantitative"},
          "color": {"field": "name", "type": "nominal"}
        }
      }
    ]
  }
]
}
